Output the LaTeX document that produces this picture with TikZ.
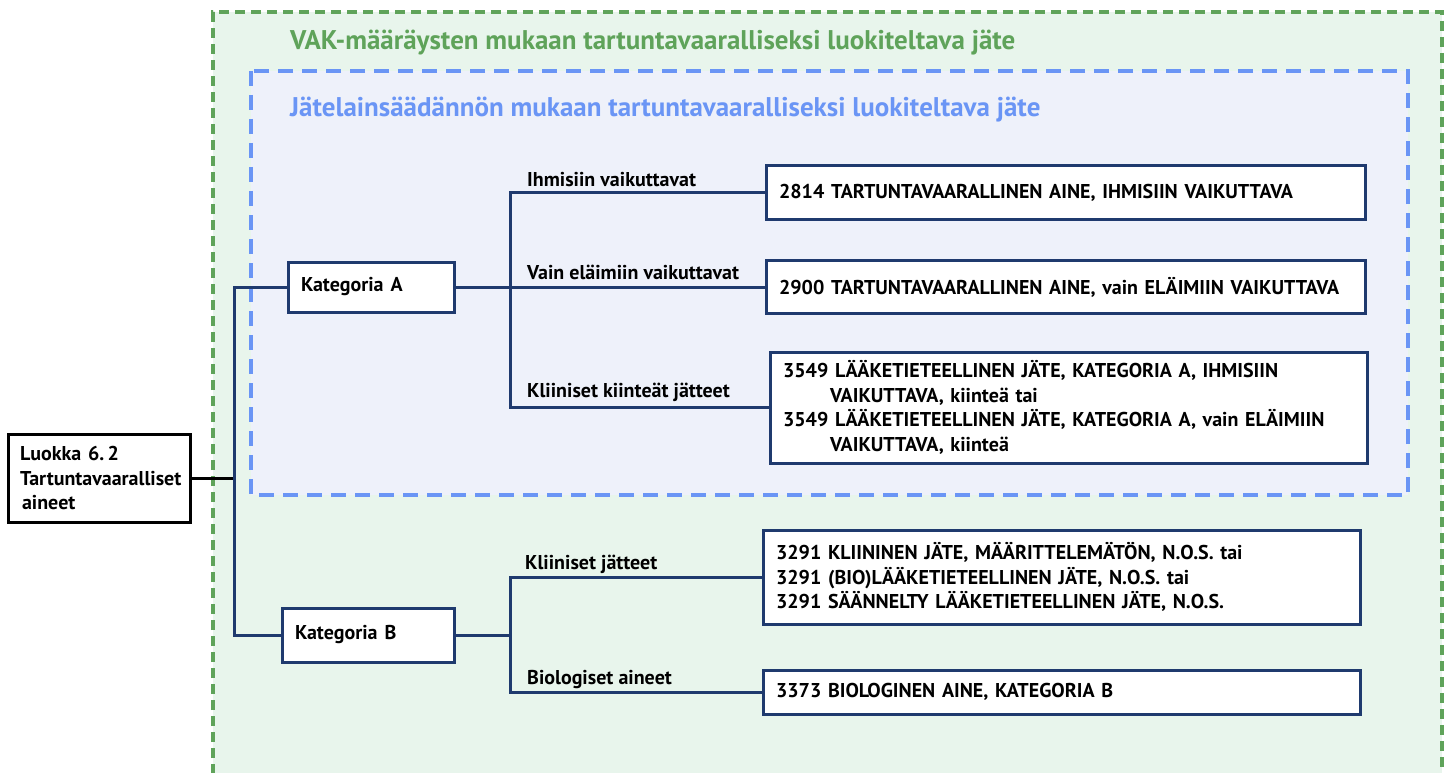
\documentclass[tikz,border=0pt]{standalone}
\usepackage{fontspec}
\setmainfont{PT Sans}
\definecolor{gfill}{HTML}{E8F5EC}
\definecolor{gline}{HTML}{5FA35A}
\definecolor{bfill}{HTML}{EEF1FA}
\definecolor{bline}{HTML}{6A95F5}
\definecolor{navy}{HTML}{1F3A6E}
\begin{document}
\begin{tikzpicture}[x=1pt,y=-1pt,
  every node/.style={font=\bfseries\fontsize{20}{24.5}\selectfont},
  box/.style={draw=navy,line width=3pt,fill=white,inner xsep=13pt,align=left,anchor=center},
  blackbox/.style={draw=black,line width=3pt,fill=white,inner xsep=12pt,align=left,anchor=center},
  conn/.style={draw=navy,line width=3pt},
  lbl/.style={anchor=base west,inner sep=0pt},
  ttl/.style={anchor=base west,inner sep=0pt,font=\bfseries\fontsize{27}{30}\selectfont}]
\useasboundingbox (0,0) rectangle (1452,773);
\fill[white] (0,0) rectangle (1452,773);
% green region
\fill[gfill] (213,12) rectangle (1442,790);
\draw[gline,line width=3.5pt,dash pattern=on 10pt off 6pt] (213,790) -- (213,12) -- (1442,12) -- (1442,790);
\node[ttl,text=gline] (vak) at (290,50) {VAK-määräysten mukaan tartuntavaaralliseksi luokiteltava jäte};
% blue region
\draw[bline,fill=bfill,line width=3.5pt,dash pattern=on 15pt off 9pt] (251,71) rectangle (1408,495);
\node[ttl,text=bline] (jl) at (290,117) {Jätelainsäädännön mukaan tartuntavaaralliseksi luokiteltava jäte};
% nodes
\node[blackbox,minimum width=182pt,minimum height=88pt,text width=158pt] (luokka) at (99,478) {Luokka 6.\,2\\Tartuntavaaralliset\\\hspace*{2pt}aineet};
\node[box,minimum width=166pt,minimum height=50pt,text width=140pt] (ka) at (371,287) {Kategoria\hspace{7pt}A};
\node[box,minimum width=172pt,minimum height=54pt,text width=146pt] (kb) at (368,635) {Kategoria\hspace{7pt}B};
\node[box,minimum width=599pt,minimum height=53pt,text width=573pt] (u2814) at (1065.5,192.5) {2814 TARTUNTAVAARALLINEN AINE, IHMISIIN VAIKUTTAVA};
\node[box,minimum width=599pt,minimum height=53pt,text width=573pt] (u2900) at (1065.5,287) {2900 TARTUNTAVAARALLINEN AINE, vain ELÄIMIIN VAIKUTTAVA};
\node[box,minimum width=597pt,minimum height=111pt,text width=571pt] (u3549) at (1068.5,407.5) {3549 LÄÄKETIETEELLINEN JÄTE, KATEGORIA A, IHMISIIN\\\hspace*{47pt}VAIKUTTAVA, kiinteä tai\\3549 LÄÄKETIETEELLINEN JÄTE, KATEGORIA A, vain ELÄIMIIN\\\hspace*{47pt}VAIKUTTAVA, kiinteä};
\node[box,minimum width=597pt,minimum height=94pt,text width=571pt] (u3291) at (1061.5,577) {3291 KLIININEN JÄTE, MÄÄRITTELEMÄTÖN, N.O.S. tai\\3291 (BIO)LÄÄKETIETEELLINEN JÄTE, N.O.S. tai\\3291 SÄÄNNELTY LÄÄKETIETEELLINEN JÄTE, N.O.S.};
\node[box,minimum width=597pt,minimum height=44pt,text width=571pt] (u3373) at (1061.5,692) {3373 BIOLOGINEN AINE, KATEGORIA B};
% junction coordinates
\coordinate (t) at (234,478);
\coordinate (ja) at (510,287);
\coordinate (jb) at (510,635);
% connectors
\draw[conn,black] (luokka.east) -- (t);
\draw[conn] (ka.west) -| (t) |- (kb.west);
\draw[conn] (ka.east) -- (u2900.west);
\draw[conn] (u2814.west) -| (ja) |- (u3549.west);
\draw[conn] (kb.east) -- (jb);
\draw[conn] (u3291.west) -| (jb) |- (u3373.west);
% labels
\node[lbl] (l1) at (527,186) {Ihmisiin vaikuttavat};
\node[lbl] (l2) at (527,279) {Vain eläimiin vaikuttavat};
\node[lbl] (l3) at (527,397) {Kliiniset kiinteät jätteet};
\node[lbl] (l4) at (525,569) {Kliiniset jätteet};
\node[lbl] (l5) at (527,684) {Biologiset aineet};
\end{tikzpicture}
\end{document}
